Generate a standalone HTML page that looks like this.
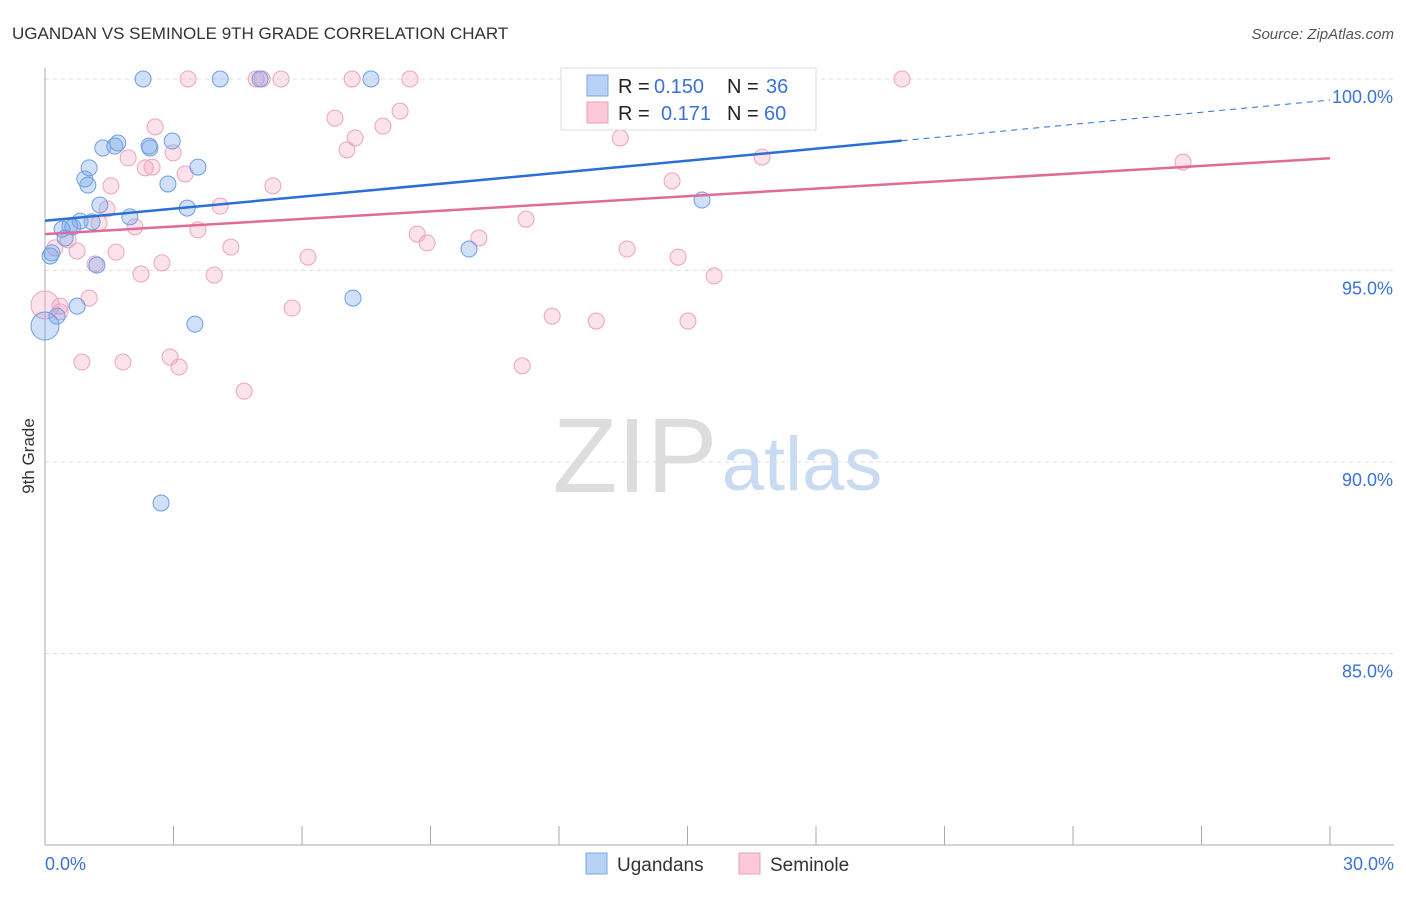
<!DOCTYPE html>
<html><head><meta charset="utf-8"><style>
body{margin:0;background:#fff;font-family:"Liberation Sans",sans-serif;}
svg text{font-family:"Liberation Sans",sans-serif;}
</style></head><body>
<svg id="c" width="1406" height="892">
<text x="12" y="39" font-size="17" fill="#333">UGANDAN VS SEMINOLE 9TH GRADE CORRELATION CHART</text>
<text x="1394" y="39" font-size="15" fill="#555" font-style="italic" text-anchor="end">Source: ZipAtlas.com</text>
<text x="635" y="492" font-size="106" fill="#ddd" font-family="Liberation Serif" text-anchor="middle">ZIP</text>
<text x="802" y="490" font-size="76" fill="#c9dbf2" text-anchor="middle">atlas</text>
<text transform="translate(34,456) rotate(-90)" font-size="17" fill="#333" text-anchor="middle">9th Grade</text>
<g id="grid"></g><g id="pts"></g><g id="lines"></g>
<g>
<rect x="561" y="68" width="255" height="62" fill="#fff" stroke="#ddd"/>
<rect x="587" y="75" width="21" height="21" fill="#b8d2f5" stroke="#7aa6e6"/>
<rect x="587" y="102" width="21" height="21" fill="#fbc9d8" stroke="#eba0b8"/>
<text x="618" y="93" font-size="20" fill="#222">R =</text>
<text x="654" y="93" font-size="20" fill="#3a72d6">0.150</text>
<text x="727" y="93" font-size="20" fill="#222">N =</text>
<text x="766" y="93" font-size="20" fill="#3a72d6">36</text>
<text x="618" y="120" font-size="20" fill="#222">R =</text>
<text x="661" y="120" font-size="20" fill="#3a72d6">0.171</text>
<text x="727" y="120" font-size="20" fill="#222">N =</text>
<text x="764" y="120" font-size="20" fill="#3a72d6">60</text>
</g>
<g>
<rect x="586" y="853" width="21" height="21" fill="#b8d2f5" stroke="#7aa6e6"/>
<text x="617" y="871" font-size="19" fill="#333">Ugandans</text>
<rect x="739" y="853" width="21" height="21" fill="#fbc9d8" stroke="#eba0b8"/>
<text x="770" y="871" font-size="19" fill="#333">Seminole</text>
</g>
</svg>
<script>
const yTicks=[100,95,90,85];
const xTickCount=10;
const blueX=[2.29,4.09,7.61,5.02,1.70,1.35,1.63,2.45,2.97,1.03,0.93,1.00,2.87,3.57,1.28,3.32,1.98,0.82,1.10,0.58,0.40,0.65,0.47,0.16,0.12,1.21,0.75,0.28,0,3.50,7.19,9.90,15.34,2.71,2.43];
const blueY=[100,100,100,100,98.33,98.20,98.25,98.20,98.38,97.68,97.39,97.23,97.26,97.70,96.71,96.63,96.40,96.29,96.27,96.16,96.08,96.14,95.85,95.46,95.38,95.14,94.07,93.81,93.55,93.60,94.28,95.56,96.84,88.93,98.25];
const pinkX=[3.34,4.93,5.07,5.51,7.17,8.52,20.01,8.29,2.57,6.77,7.24,7.89,7.05,13.43,2.99,1.94,16.74,26.57,2.34,2.50,3.27,1.54,5.32,14.64,1.45,4.09,2.10,3.57,1.26,11.23,8.69,8.92,10.13,0.54,0.23,0.75,1.66,4.34,6.14,13.59,14.78,1.17,2.73,2.24,3.95,15.62,1.03,5.77,0.35,0,11.84,12.87,15.01,0.86,1.82,2.92,3.13,11.14,4.65,0.35];
const pinkY=[100,100,100,100,100,100,100,99.16,98.75,98.98,98.46,98.77,98.15,98.46,98.07,97.94,97.96,97.83,97.68,97.70,97.52,97.21,97.21,97.34,96.61,96.68,96.14,96.06,96.24,96.34,95.95,95.72,95.85,95.80,95.59,95.51,95.48,95.61,95.35,95.56,95.35,95.17,95.20,94.91,94.88,94.86,94.28,94.02,94.07,94.10,93.81,93.68,93.68,92.61,92.61,92.74,92.48,92.51,91.85,93.92];
const blueTrend=[96.30,98.39,99.45];
const pinkTrend=[95.95,97.93];
const NS='http://www.w3.org/2000/svg';
const X=v=>45+v/30*1285, Y=v=>79+(100-v)*38.3;
function mk(t,a,p){const e=document.createElementNS(NS,t);for(const k in a)e.setAttribute(k,a[k]);p.appendChild(e);return e;}
const g=document.getElementById('grid');
for(const t of yTicks){
 const l=mk('line',{x1:45,x2:1394,y1:Y(t),y2:Y(t),stroke:'#ddd','stroke-dasharray':'4,4'},g);
 
 
 const tx=mk('text',{x:1393,y:Y(t)+24,'font-size':18,fill:'#3a72d6','text-anchor':'end'},g);
 tx.textContent=t.toFixed(1)+'%';
 
 
}
mk('line',{x1:45,x2:45,y1:68,y2:845,stroke:'#aaa'},g);
mk('line',{x1:45,x2:1394,y1:845,y2:845,stroke:'#aaa'},g);
for(let i=0;i<=xTickCount;i++){const x=X(i*3);const t=mk('line',{x1:x,x2:x,y1:826,y2:845,stroke:'#aaa'},g);
 
 }
const x0=mk('text',{x:45,y:870,'font-size':18,fill:'#3a72d6'},g);x0.textContent='0.0%';


const x1=mk('text',{x:1394,y:870,'font-size':18,fill:'#3a72d6','text-anchor':'end'},g);x1.textContent='30.0%';


const P=document.getElementById('pts');
pinkX.forEach((v,i)=>{const c=mk('circle',{cx:X(v),cy:Y(pinkY[i]),r:(v===0?14:8),fill:'rgba(245,160,190,0.3)',stroke:'#eda3bd','stroke-width':1},P);
 
 });
blueX.forEach((v,i)=>{const c=mk('circle',{cx:X(v),cy:Y(blueY[i]),r:(v===0?14:8),fill:'rgba(120,165,235,0.35)',stroke:'#6f9de3','stroke-width':1},P);
 
 });
const L=document.getElementById('lines');
const b1=mk('line',{x1:X(0),y1:Y(blueTrend[0]),x2:X(20),y2:Y(blueTrend[1]),stroke:'#2a6fd6','stroke-width':2.5},L);


const b2=mk('line',{x1:X(20),y1:Y(blueTrend[1]),x2:X(30),y2:Y(blueTrend[2]),stroke:'#2a6fd6','stroke-width':1,'stroke-dasharray':'6,5'},L);


const p1=mk('line',{x1:X(0),y1:Y(pinkTrend[0]),x2:X(30),y2:Y(pinkTrend[1]),stroke:'#e06b98','stroke-width':2.5},L);


</script>
</body></html>
